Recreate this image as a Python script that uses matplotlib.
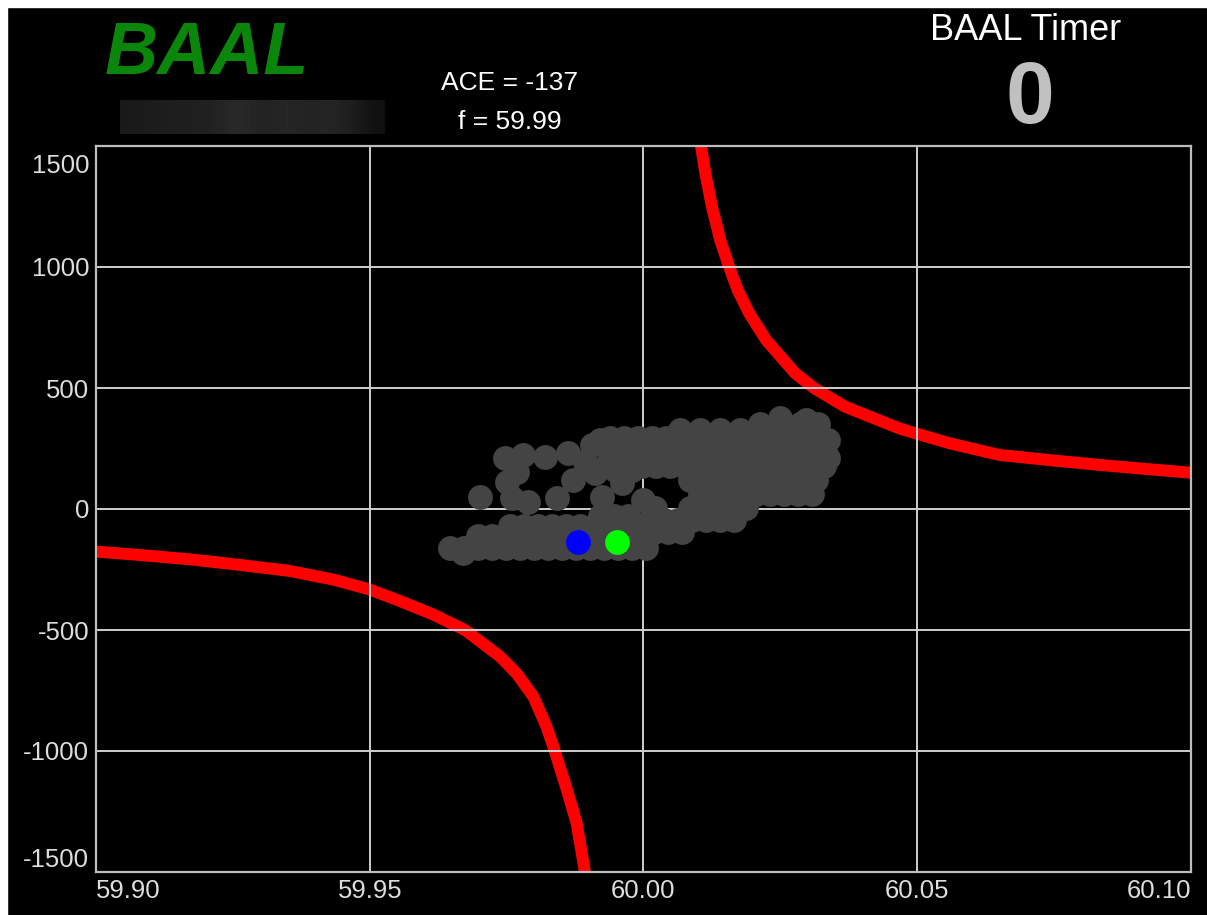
import matplotlib.pyplot as plt
import matplotlib.transforms as mtransforms
from matplotlib.patches import Rectangle
import numpy as np

plt.rcParams['font.family'] = ['Liberation Sans', 'DejaVu Sans']

# BAAL limit curves (frequency, ACE)
upper_f = [60.0105, 60.0113, 60.0125, 60.0140, 60.0157, 60.0172, 60.0193, 60.0224, 60.0277,
           60.0312, 60.0368, 60.0444, 60.0469, 60.0501, 60.0560, 60.0651, 60.0742, 60.0834,
           60.0925, 60.1000]
upper_ace = [1500, 1387, 1249, 1112, 997, 905, 809, 698, 561,
             499, 423, 354, 332, 310, 271, 223, 202, 182,
             164, 150]

lower_f = [59.9000, 59.9080, 59.9172, 59.9263, 59.9354, 59.9434, 59.9499, 59.9555, 59.9616,
           59.9674, 59.9738, 59.9768, 59.9799, 59.9823, 59.9838, 59.9860, 59.9878, 59.9893]
lower_ace = [-176, -190, -208, -231, -256, -292, -332, -380, -436,
             -500, -610, -679, -776, -900, -1000, -1160, -1299, -1500]

# history of (f, ACE) samples
hist_f = [
    # upper left group
    59.9701, 59.9747, 59.9780, 59.9820, 59.9862, 59.9906, 59.9751, 59.9769, 59.9760, 59.9789,
    59.9842, 59.9871, 59.9911, 59.9924, 59.9935, 59.9961, 59.9984, 59.9961, 59.9979, 59.9999,
    59.9893, 59.9921, 59.9948,
    # lower band
    59.9647, 59.9672, 59.9698, 59.9723, 59.9749, 59.9774, 59.9800, 59.9826, 59.9851, 59.9877,
    59.9902, 59.9928, 59.9953, 59.9979, 60.0005, 59.9670,
    59.9698, 59.9723, 59.9749, 59.9774, 59.9800, 59.9826, 59.9851, 59.9877, 59.9902, 59.9928,
    59.9953, 59.9979,
    59.9756, 59.9782, 59.9807, 59.9833, 59.9858, 59.9884, 59.9910, 59.9935, 59.9961, 59.9986,
    59.9921, 59.9946, 59.9972,
    # main group
    60.0213, 60.0249, 60.0286, 60.0319, 60.0249, 60.0297,
    60.0067, 60.0103, 60.0140, 60.0176,
    59.9939, 59.9964, 59.9990, 60.0016, 60.0041, 60.0067, 60.0092, 60.0118, 60.0143, 60.0169,
    60.0195, 60.0220, 60.0246, 60.0271, 60.0297, 60.0322, 60.0337, 60.0337,
    59.9939, 59.9964, 59.9990, 60.0016, 60.0041, 60.0067, 60.0092, 60.0118, 60.0143, 60.0169,
    60.0195, 60.0220, 60.0246, 60.0271, 60.0297,
    59.9946, 59.9972, 59.9997, 60.0023, 60.0048, 60.0074, 60.0100, 60.0125, 60.0151, 60.0176,
    60.0202, 60.0227, 60.0253, 60.0279, 60.0304, 60.0330,
    60.0085, 60.0111, 60.0136, 60.0162, 60.0187, 60.0213, 60.0238, 60.0264, 60.0290, 60.0315,
    60.0103, 60.0129, 60.0154, 60.0180, 60.0205, 60.0231, 60.0257, 60.0282, 60.0308,
    60.0085, 60.0111, 60.0136, 60.0162, 60.0187,
    60.0012, 60.0037, 60.0063, 60.0089, 60.0114, 60.0140, 60.0165,
    59.9994, 60.0019, 60.0045, 60.0070, 60.0021]
hist_ace = [
    50, 211, 223, 215, 231, 264, 112, 153, 45, 29,
    45, 120, 149, 50, 190, 244, 285, 107, 161, 37,
    194, 285, 161,
    -161, -161, -161, -161, -161, -161, -161, -161, -161, -161,
    -161, -161, -161, -161, -161, -182,
    -112, -112, -112, -112, -112, -112, -112, -112, -112, -112,
    -112, -112,
    -70, -70, -70, -70, -70, -70, -70, -70, -70, -70,
    -29, -29, -29,
    351, 351, 351, 351, 376, 368,
    326, 326, 326, 326,
    293, 293, 293, 293, 293, 293, 293, 293, 293, 293,
    293, 293, 293, 293, 293, 293, 285, 211,
    236, 236, 236, 236, 236, 236, 236, 236, 236, 236,
    236, 236, 236, 236, 236,
    178, 178, 178, 178, 178, 178, 178, 178, 178, 178,
    178, 178, 178, 178, 178, 178,
    120, 120, 120, 120, 120, 120, 120, 120, 120, 120,
    62, 62, 62, 62, 62, 62, 62, 62, 62,
    4, 4, 4, 4, 4,
    -45, -45, -45, -45, -45, -45, -45,
    -95, -95, -95, -95, 4]

prev_point = (59.9880, -137)
now_point = (59.9951, -137)

x_ticks = [59.90, 59.95, 60.00, 60.05, 60.10]
x_labels = ['59.90', '59.95', '60.00', '60.05', '60.10']
y_ticks = [-1500, -1000, -500, 0, 500, 1000, 1500]
y_labels = ['-1500', '-1000', '-500', '0', '500', '1000', '1500']

ace_now = -137
f_now = 59.99
timer = 0

W, H = 1207, 915
fig = plt.figure(figsize=(W / 100, H / 100), dpi=100, facecolor='black')

# white strips from the screenshot edges
fig.patches.append(Rectangle((0, 1 - 7 / H), 1, 7 / H, transform=fig.transFigure,
                             color='white', zorder=0))
fig.patches.append(Rectangle((0, 0), 7 / W, 1, transform=fig.transFigure,
                             color='white', zorder=0))

ax = fig.add_axes([96 / W, 43 / H, 1095 / W, 726 / H])
ax.set_facecolor('black')
ax.set_xlim(59.90, 60.10)
ax.set_ylim(-1500, 1500)

ax.plot(upper_f, upper_ace, color='#ff0000', lw=8.6, zorder=1, solid_capstyle='butt',
        solid_joinstyle='round')
ax.plot(lower_f, lower_ace, color='#ff0000', lw=8.6, zorder=1, solid_capstyle='butt',
        solid_joinstyle='round')

ax.scatter(hist_f, hist_ace, s=320, color='#444444', linewidths=0, zorder=3)
ax.scatter([prev_point[0]], [prev_point[1]], s=320, color='#0000ff', linewidths=0, zorder=4)
ax.scatter([now_point[0]], [now_point[1]], s=320, color='#00ff00', linewidths=0, zorder=4)

ax.set_axisbelow('line')
ax.grid(True, color='#cfcfcf', lw=1.4)
for s in ax.spines.values():
    s.set_color('#bdbdbd')
    s.set_linewidth(1.6)

ax.set_xticks(x_ticks)
ax.set_xticklabels(x_labels)
ax.set_yticks(y_ticks)
ax.set_yticklabels(y_labels)
ax.tick_params(length=0, labelsize=18.5, labelcolor='#dddddd', pad=5)
xl = ax.get_xticklabels()
xl[0].set_ha('left')
xl[-1].set_ha('right')
yl = ax.get_yticklabels()
yl[0].set_va('bottom')
yl[-1].set_va('top')
yl[-1].set_transform(yl[-1].get_transform() +
                     mtransforms.ScaledTranslation(0, -6 / 72, fig.dpi_scale_trans))

# header texts
fig.text(207 / W, 1 - 55 / H, 'BAAL', color='#0a870a', fontsize=53, fontweight='bold',
         fontstyle='italic', ha='center', va='center')
fig.text(510 / W, 1 - 83 / H, f'ACE = {ace_now}', color='white', fontsize=19,
         ha='center', va='center')
fig.text(510 / W, 1 - 122 / H, f'f = {f_now:.2f}', color='white', fontsize=19,
         ha='center', va='center')
fig.text(1026 / W, 1 - 31 / H, 'BAAL Timer', color='white', fontsize=26,
         ha='center', va='center')
fig.text(1030 / W, 1 - 101 / H, str(timer), color='#c0c0c0', fontsize=63,
         fontweight='bold', ha='center', va='center')

# blurred bar under the logo
bar_levels = [0.10, 0.11, 0.12, 0.12, 0.14, 0.17, 0.12, 0.16, 0.13, 0.15, 0.12, 0.06]
bax = fig.add_axes([120 / W, 1 - 134 / H, 265 / W, 34 / H])
bax.imshow(np.array([bar_levels]), cmap='gray', vmin=0, vmax=1, aspect='auto',
           interpolation='bicubic')
bax.axis('off')

fig.savefig('out.png', dpi=100, facecolor='black')
